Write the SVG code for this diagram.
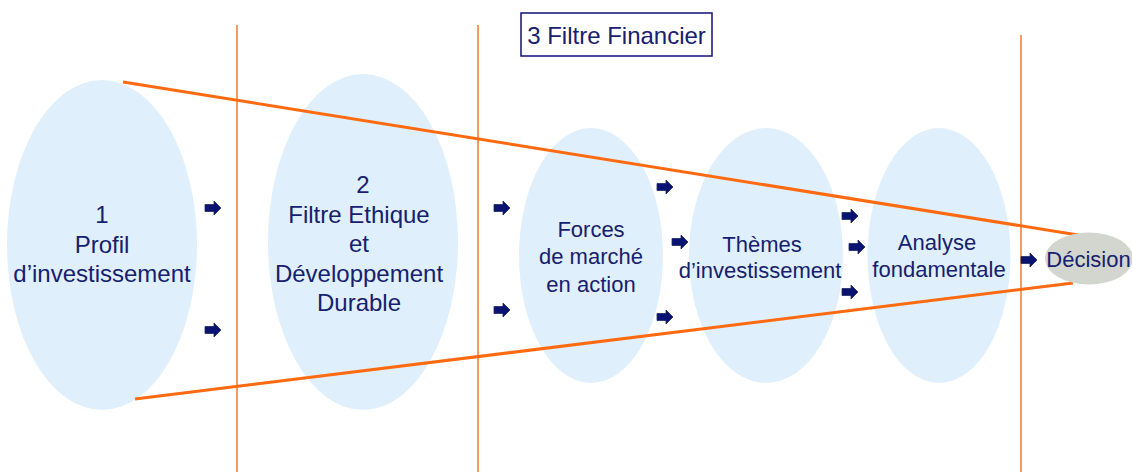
<svg xmlns="http://www.w3.org/2000/svg" width="1132" height="476" viewBox="0 0 1132 476">
<style>
.ell{fill:#dff0fc}
.t{font-family:"Liberation Sans",Arial,sans-serif;fill:#16206e;text-anchor:middle}
.big{font-size:24px}
.med{font-size:22px}
.vl{stroke:#f27a2a;stroke-width:1.5;fill:none}
.fl{stroke:#ff6a10;stroke-width:3;fill:none}
</style>
<defs>
<path id="arr" d="M0,-3.5 H9 V-7 L16,0 L9,7 V3.5 H0 Z" fill="#0a1272" stroke="#1c2a5e" stroke-width="0.8"/>
</defs>
<rect width="1132" height="476" fill="#ffffff"/>

<g id="title">
<rect x="521" y="13" width="191" height="43" fill="#ffffff" stroke="#10107a" stroke-width="1.5"/>
<text class="t" x="616.5" y="44" font-size="24" fill="#10106a">3 Filtre Financier</text>
</g>

<g id="n1">
<ellipse class="ell" cx="102" cy="245" rx="95" ry="165"/>
<text class="t big" x="102" y="223">1</text>
<text class="t big" x="102" y="253">Profil</text>
<text class="t big" x="102" y="282">d’investissement</text>
</g>
<g id="n2">
<ellipse class="ell" cx="363" cy="242" rx="95" ry="168"/>
<text class="t big" x="363" y="193">2</text>
<text class="t big" x="359" y="223">Filtre Ethique</text>
<text class="t big" x="359" y="252">et</text>
<text class="t big" x="359" y="282">Développement</text>
<text class="t big" x="359" y="311">Durable</text>
</g>
<g id="n3">
<ellipse class="ell" cx="591" cy="255.5" rx="72" ry="127.5"/>
<text class="t med" x="591" y="237">Forces</text>
<text class="t med" x="591" y="264">de marché</text>
<text class="t med" x="591" y="292">en action</text>
</g>
<g id="n4">
<ellipse class="ell" cx="766" cy="255.5" rx="77" ry="127.5"/>
<text class="t med" x="762" y="252">Thèmes</text>
<text class="t med" x="760" y="278">d’investissement</text>
</g>
<g id="n5">
<ellipse class="ell" cx="939" cy="255.5" rx="71.5" ry="127.5"/>
<text class="t med" x="937" y="250">Analyse</text>
<text class="t med" x="939" y="277">fondamentale</text>
</g>

<g id="lines">
<line class="vl" x1="237" y1="25" x2="237" y2="472"/>
<line class="vl" x1="478" y1="25" x2="478" y2="472"/>
<line class="vl" x1="1021" y1="35" x2="1021" y2="472"/>
<line class="fl" x1="123" y1="82" x2="1078" y2="235"/>
<line class="fl" x1="135" y1="399" x2="1073" y2="283"/>
</g>

<g id="decision">
<ellipse cx="1089" cy="258.5" rx="44" ry="26" fill="#d2d6ce"/>
<text class="t med" x="1088.5" y="267">Décision</text>
</g>

<g id="connectors">
<use href="#arr" x="205" y="208"/>
<use href="#arr" x="205" y="330"/>
<use href="#arr" x="494" y="208"/>
<use href="#arr" x="494" y="310"/>
<use href="#arr" x="657" y="187"/>
<use href="#arr" x="672" y="242"/>
<use href="#arr" x="657" y="317"/>
<use href="#arr" x="842" y="216"/>
<use href="#arr" x="849" y="247"/>
<use href="#arr" x="842" y="292"/>
<use href="#arr" x="1021" y="260"/>
</g>
</svg>
